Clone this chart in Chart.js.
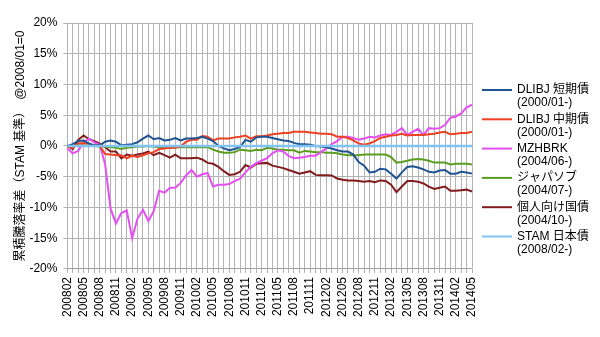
<!DOCTYPE html>
<html>
<head>
<meta charset="utf-8">
<script src="https://cdn.jsdelivr.net/npm/chart.js@4/dist/chart.umd.min.js"></script>
<style>
  html, body { margin: 0; padding: 0; background: #fff; }
  #wrap { width: 600px; height: 337px; position: relative; }
</style>
</head>
<body>
<div id="wrap"><canvas id="line-chart"></canvas></div>
<script>
// months on the x axis (200802 .. 201405)
var months = [
  "200802","200803","200804","200805","200806","200807","200808","200809","200810","200811","200812",
  "200901","200902","200903","200904","200905","200906","200907","200908","200909","200910","200911","200912",
  "201001","201002","201003","201004","201005","201006","201007","201008","201009","201010","201011","201012",
  "201101","201102","201103","201104","201105","201106","201107","201108","201109","201110","201111","201112",
  "201201","201202","201203","201204","201205","201206","201207","201208","201209","201210","201211","201212",
  "201301","201302","201303","201304","201305","201306","201307","201308","201309","201310","201311","201312",
  "201401","201402","201403","201404","201405"
];

var seriesNames = ["DLIBJ 短期債", "DLIBJ 中期債", "MZHBRK", "ジャパソブ", "個人向け国債", "STAM 日本債"];
var seriesSince = ["(2000/01-)", "(2000/01-)", "(2004/06-)", "(2004/07-)", "(2004/10-)", "(2008/02-)"];
var seriesColors = ["#1f5391", "#ee4022", "#e54ff2", "#5b9e1f", "#821b1d", "#80c4f3"];

// cumulative return difference vs STAM (%)
var dlibjShort = [
  0, 0.3, 0.8, 0.9, 0.4, 0.1, 0.1, 0.7, 0.9, 0.7, 0.1,
  0.2, 0.3, 0.6, 1.2, 1.7, 1.1, 1.3, 0.9, 1.0, 1.3, 0.9, 1.2,
  1.2, 1.3, 1.5, 1.2, 0.8, 0.0, -0.4, -0.7, -0.5, -0.2, 1.0, 0.7,
  1.4, 1.5, 1.5, 1.3, 1.1, 0.9, 0.8, 0.5, 0.3, 0.3, 0.2, 0.0,
  -0.1, -0.2, -0.4, -0.7, -0.9, -0.9, -1.4, -2.6, -3.2, -4.3, -4.2, -3.7,
  -3.8, -4.5, -5.3, -4.3, -3.4, -3.3, -3.5, -3.8, -4.2, -4.3, -4.0, -3.9,
  -4.5, -4.5, -4.2, -4.3, -4.5
];
var dlibjMid = [
  0, -0.3, 0.4, 0.5, 0.3, 0.1, 0.0, -1.3, -1.4, -1.5, -1.5,
  -2.0, -1.6, -1.8, -1.5, -1.2, -1.0, -0.5, -0.4, -0.3, -0.3, -0.1, 0.7,
  1.0, 1.0, 1.6, 1.5, 0.9, 1.2, 1.2, 1.2, 1.4, 1.5, 1.7, 1.2,
  1.6, 1.6, 1.7, 1.9, 2.0, 2.1, 2.1, 2.3, 2.3, 2.3, 2.2, 2.1,
  2.0, 2.0, 1.9, 1.5, 1.5, 1.3, 0.9, 0.4, 0.2, 0.4, 0.8, 1.3,
  1.5, 1.7, 1.8, 2.0, 1.7, 1.8, 1.8, 1.8, 1.9, 2.0, 2.2, 2.3,
  1.9, 2.0, 2.1, 2.1, 2.3
];
var mzhbrk = [
  -0.4, -1.2, -0.8, 0.6, 1.2, 0.6, 0.2, -3.0, -10.2, -12.6, -10.9,
  -10.5, -15.0, -11.8, -10.4, -12.2, -10.6, -7.3, -7.6, -6.8, -6.8, -6.0, -4.8,
  -3.9, -5.0, -4.6, -4.4, -6.6, -6.3, -6.3, -6.2, -5.7, -5.3, -4.3, -3.4,
  -2.8, -2.4, -2.0, -1.2, -0.7, -0.9, -1.6, -2.0, -1.9, -1.8, -1.6, -1.6,
  -1.0, -0.4, 0.3, 0.8, 1.5, 1.5, 1.3, 1.0, 1.2, 1.5, 1.4, 1.7,
  1.9, 1.8, 2.3, 2.9, 1.8, 2.3, 2.8, 1.8, 2.9, 2.8, 2.9, 3.4,
  4.6, 4.8, 5.3, 6.3, 6.7
];
var japaSov = [
  0, 0, 0.1, 0.1, 0, 0, -0.1, -0.1, -0.2, -0.3, -0.5,
  -0.3, -0.2, -0.1, -0.1, 0, -0.1, -0.2, -0.3, -0.3, -0.2, -0.2, -0.2,
  -0.2, -0.2, -0.2, -0.2, -0.6, -0.9, -1.1, -1.1, -1.0, -0.6, -0.7, -0.8,
  -0.6, -0.7, -0.3, -0.4, -0.6, -0.6, -0.7, -0.7, -1.1, -0.8, -0.9, -1.0,
  -1.0, -1.1, -1.1, -1.2, -1.4, -1.5, -1.5, -1.5, -1.4, -1.4, -1.4, -1.4,
  -1.4, -1.8, -2.7, -2.6, -2.4, -2.2, -2.1, -2.2, -2.4, -2.7, -2.7, -2.7,
  -3.0, -2.9, -2.9, -2.9, -3.0
];
var kojinJgb = [
  0, -0.5, 1.0, 1.7, 1.1, 0.8, 0.4, -0.2, -0.9, -0.9, -2.0,
  -1.4, -1.6, -1.4, -1.2, -0.9, -1.5, -1.1, -1.5, -1.9, -1.4, -2.0, -2.0,
  -2.0, -1.9, -2.2, -2.75, -2.9, -3.4, -4.1, -4.7, -4.6, -4.2, -3.1, -3.5,
  -2.9, -2.8, -2.75, -3.2, -3.4, -3.6, -3.9, -4.2, -4.5, -4.3, -4.1, -4.7,
  -4.75, -4.75, -4.8, -5.3, -5.5, -5.6, -5.6, -5.7, -5.8, -5.7, -5.9, -5.6,
  -5.7, -6.3, -7.5, -6.6, -5.7, -5.7, -5.8, -6.1, -6.6, -7.0, -6.8, -6.6,
  -7.3, -7.3, -7.2, -7.1, -7.4
];
var stamJp = [
  0, 0, 0, 0, 0, 0, 0, 0, 0, 0, 0,
  0, 0, 0, 0, 0, 0, 0, 0, 0, 0, 0, 0,
  0, 0, 0, 0, 0, 0, 0, 0, 0, 0, 0, 0,
  0, 0, 0, 0, 0, 0, 0, 0, 0, 0, 0, 0,
  0, 0, 0, 0, 0, 0, 0, 0, 0, 0, 0, 0,
  0, 0, 0, 0, 0, 0, 0, 0, 0, 0, 0, 0,
  0, 0, 0, 0, 0
];

var yTicks = [-20, -15, -10, -5, 0, 5, 10, 15, 20];
var yTitle = "累積騰落率差（STAM 基準）　@2008/01=0";

var FONT = "'Liberation Sans', 'Noto Sans CJK JP', sans-serif";
var seriesData = [dlibjShort, dlibjMid, mzhbrk, japaSov, kojinJgb, stamJp];

var datasets = seriesData.map(function(d, i) {
    return {
        label: seriesNames[i],
        data: d,
        borderColor: seriesColors[i],
        backgroundColor: seriesColors[i],
        borderWidth: i == 5 ? 2.5 : 2,
        pointRadius: 0,
        tension: 0,
        fill: false,
        order: i == 5 ? 0 : i + 1
    };
});

// two-line legend on the right
var sideLegend = {
    id: 'sideLegend',
    afterDraw: function(chart) {
        var ctx = chart.ctx;
        var x0 = chart.chartArea.right + 10;
        ctx.save();
        ctx.font = "12px " + FONT;
        ctx.fillStyle = "#000";
        ctx.textBaseline = "middle";
        for (var i = 0; i < seriesNames.length; i++) {
            var y = 90 + i * 29.3;
            ctx.strokeStyle = seriesColors[i];
            ctx.lineWidth = 2;
            ctx.beginPath();
            ctx.moveTo(x0, y);
            ctx.lineTo(x0 + 30, y);
            ctx.stroke();
            ctx.fillText(seriesNames[i], x0 + 35, y);
            ctx.fillText(seriesSince[i], x0 + 35, y + 13);
        }
        ctx.restore();
    }
};

new Chart(document.getElementById("line-chart"), {
    type: 'line',
    data: { labels: months, datasets: datasets },
    plugins: [sideLegend],
    options: {
        responsive: true,
        maintainAspectRatio: false,
        animation: false,
        layout: { padding: { left: 9, right: 128, top: 23, bottom: 16 } },
        plugins: {
            legend: { display: false },
            tooltip: { enabled: false }
        },
        scales: {
            x: {
                grid: { color: '#b3b3b3', lineWidth: 1, tickLength: 4 },
                ticks: {
                    autoSkip: false,
                    maxRotation: 90,
                    minRotation: 90,
                    padding: 4,
                    color: '#000',
                    font: { family: FONT, size: 12 },
                    callback: function(v, i) { return i % 3 == 0 ? months[i] : ''; }
                }
            },
            y: {
                min: -20,
                max: 20,
                afterBuildTicks: function(axis) {
                    axis.ticks = yTicks.map(function(v) { return { value: v }; });
                },
                afterFit: function(axis) { axis.width -= 8; },
                grid: { color: '#b3b3b3', lineWidth: 1, tickLength: 4 },
                border: { color: '#b3b3b3' },
                ticks: {
                    padding: 6,
                    color: '#000',
                    font: { family: FONT, size: 12 },
                    callback: function(v) { return v + '%'; }
                },
                title: {
                    display: true,
                    text: yTitle,
                    color: '#000',
                    font: { family: FONT, size: 12 },
                    padding: { top: 4, bottom: 4 }
                }
            }
        }
    }
});
</script>
</body>
</html>
